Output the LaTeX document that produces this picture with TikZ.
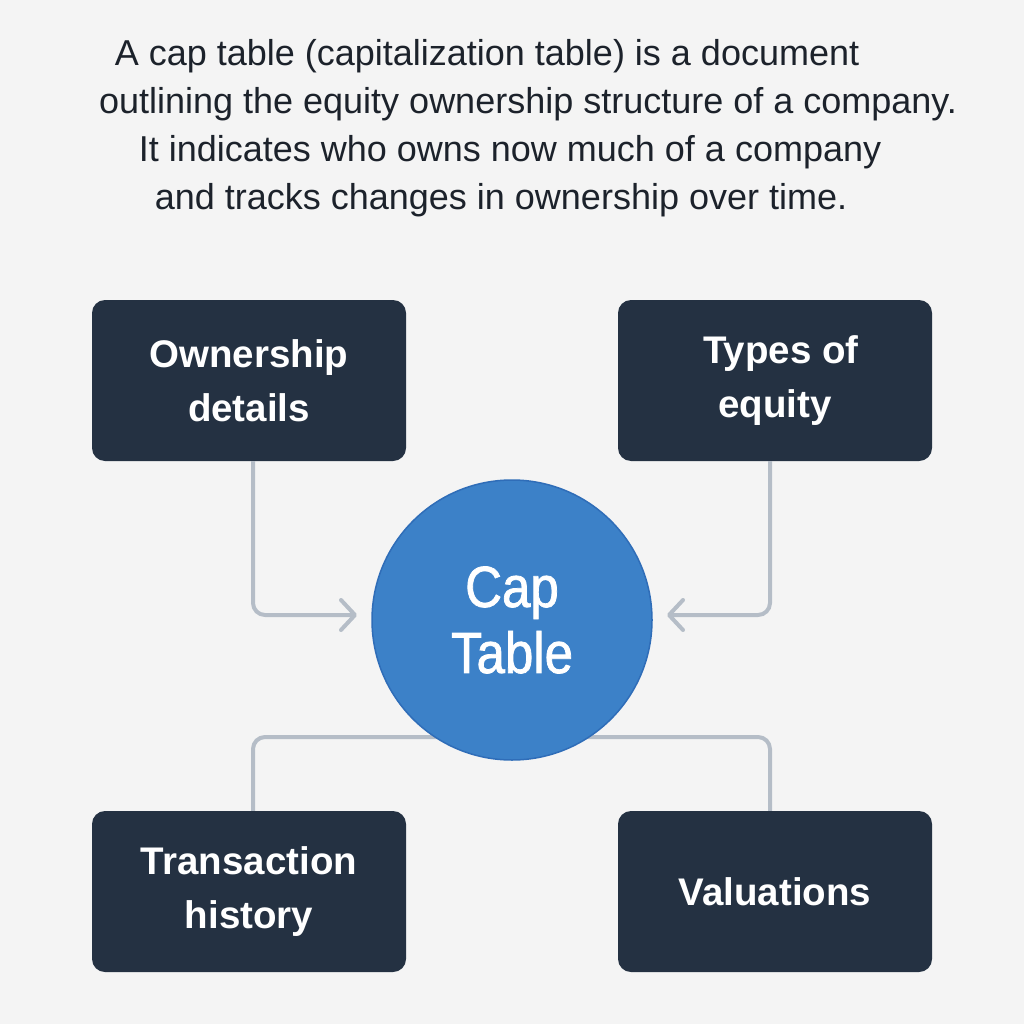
\documentclass[tikz,border=0pt]{standalone}
\usepackage{fontspec}
\setmainfont{Liberation Sans}
\newfontfamily\capfont[FakeStretch=0.88,FakeBold=1.3]{Liberation Sans}
\usetikzlibrary{arrows.meta,calc}
\definecolor{bg}{HTML}{F4F4F4}
\definecolor{boxc}{HTML}{243142}
\definecolor{circc}{HTML}{3C81C8}
\definecolor{circb}{HTML}{2F6DB8}
\definecolor{linec}{HTML}{B5BDC7}
\definecolor{txt}{HTML}{1C222B}
\tikzset{
  box/.style={fill=boxc, rounded corners=13pt, minimum width=314pt, minimum height=161pt,
    text=white, align=center, font=\fontsize{38.5}{54}\selectfont\bfseries, inner sep=0pt},
  conn/.style={draw=linec, line width=4pt, rounded corners=12pt},
  tip/.style={-{Straight Barb[length=14pt,width=30pt,line cap=round,line join=round]}},
  para/.style={text=txt, font=\fontsize{36}{42}\selectfont, inner sep=0pt, anchor=base}
}
\begin{document}
\begin{tikzpicture}[x=1pt,y=-1pt]
\fill[bg] (0,0) rectangle (1024,1024);
\useasboundingbox (0,0) rectangle (1024,1024);
\node[para] (l1) at (487,66) {A cap table (capitalization table) is a document};
\node[para] (l2) at (528,114) {outlining the equity ownership structure of a company.};
\node[para] (l3) at (510,162) {It indicates who owns now much of a company};
\node[para] (l4) at (501,210) {and tracks changes in ownership over time.};

\node[box] (own) at (249,380.5) {Ownership\\details};
\node[box] (typ) at (775,380.5) {\hspace*{12pt}Types of\\equity};
\node[box] (tra) at (249,891.5) {Transaction\\history};
\node[box] (val) at (775,891.5) {Valuations};

\coordinate (bus) at (512,737);
\coordinate (lt) at (357,615);
\coordinate (rt) at (667,615);
\draw[conn] ([xshift=4pt]tra.north) |- (bus) -| ([xshift=-5pt]val.north);
\draw[conn,tip] ([xshift=4pt]own.south) |- (lt);
\draw[conn,tip] ([xshift=-5pt]typ.south) |- (rt);

\node[circle, fill=circc, draw=circb, line width=1.5pt, minimum size=280pt, inner sep=0pt,
  text=white, align=center, font=\capfont\fontsize{58}{66}\selectfont] (cap) at (512,620) {Cap\\Table};
\end{tikzpicture}
\end{document}
